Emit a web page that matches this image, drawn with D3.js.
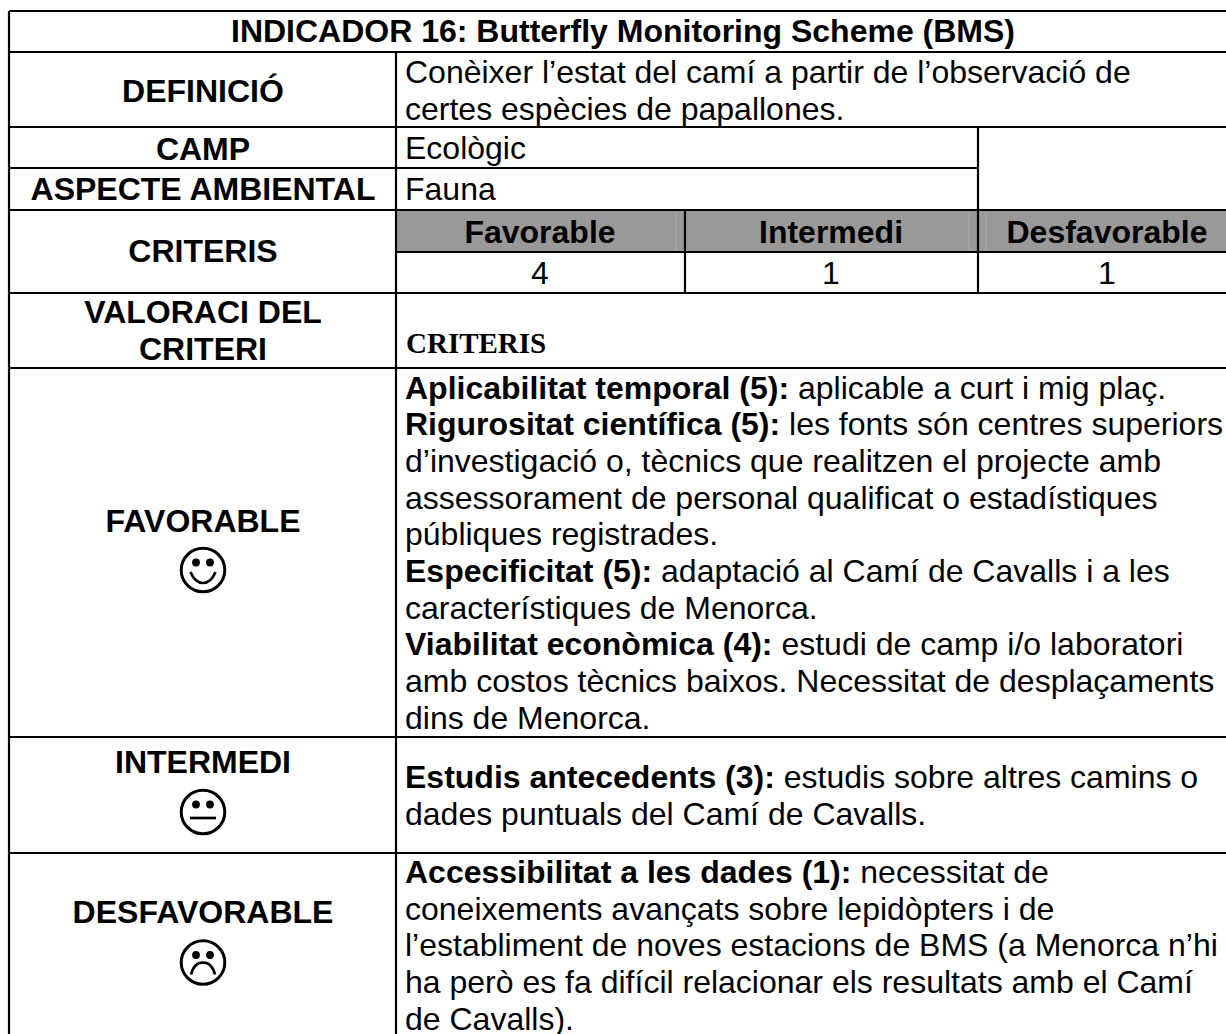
<!DOCTYPE html>
<html><head><meta charset="utf-8">
<script src="https://cdnjs.cloudflare.com/ajax/libs/d3/7.8.5/d3.min.js"></script>
<style>html,body{margin:0;padding:0;background:#fff;overflow:hidden}svg{display:block}text{font-family:"Liberation Sans",Arial,sans-serif;fill:#000}</style>
</head><body><svg id="c" width="1226" height="1034"></svg>
<script>
const title = "INDICADOR 16: Butterfly Monitoring Scheme (BMS)";
const rowLabels = [["DEFINICIÓ"],["CAMP"],["ASPECTE AMBIENTAL"],["CRITERIS"],["VALORACI DEL","CRITERI"],["FAVORABLE"],["INTERMEDI"],["DESFAVORABLE"]];
const definition = ["Conèixer l’estat del camí a partir de l’observació de","certes espècies de papallones."];
const camp = "Ecològic";
const aspecte = "Fauna";
const criteriaNames = ["Favorable","Intermedi","Desfavorable"];
const criteriaCounts = [4,1,1];
const subhead = "CRITERIS";
const favorableLines = [
 [["Aplicabilitat temporal (5):",1],[" aplicable a curt i mig plaç.",0]],
 [["Rigurositat científica (5):",1],[" les fonts són centres superiors",0]],
 [["d’investigació o, tècnics que realitzen el projecte amb",0]],
 [["assessorament de personal qualificat o estadístiques",0]],
 [["públiques registrades.",0]],
 [["Especificitat (5):",1],[" adaptació al Camí de Cavalls i a les",0]],
 [["característiques de Menorca.",0]],
 [["Viabilitat econòmica (4):",1],[" estudi de camp i/o laboratori",0]],
 [["amb costos tècnics baixos. Necessitat de desplaçaments",0]],
 [["dins de Menorca.",0]]];
const intermediLines = [
 [["Estudis antecedents (3):",1],[" estudis sobre altres camins o",0]],
 [["dades puntuals del Camí de Cavalls.",0]]];
const desfavLines = [
 [["Accessibilitat a les dades (1):",1],[" necessitat de",0]],
 [["coneixements avançats sobre lepidòpters i de",0]],
 [["l’establiment de noves estacions de BMS (a Menorca n’hi",0]],
 [["ha però es fa difícil relacionar els resultats amb el Camí",0]],
 [["de Cavalls).",0]]];
const faces = ["smile","neutral","sad"];

const svg = d3.select("#c");
const FS = 32, LH = 36.7;
const L=9, V=396, V2=685, V3=978, R=1226, B=1034;
const Y={top:11,def:52,camp:127,asp:168,crit:210,count:252,val:293,fav:368,int:737,des:853};
const lw=2.2;
const hLines=[[L,R,Y.top],[L,R,Y.def],[L,R,Y.camp],[L,V3,Y.asp],[L,R,Y.crit],[V,R,Y.count],[L,R,Y.val],[L,R,Y.fav],[L,R,Y.int],[L,R,Y.des]];
const vLines=[[L,Y.top,B],[V,Y.def,B],[V2,Y.crit,Y.val],[V3,Y.camp,Y.val]];
function txt(t,x,y,o={}){return svg.append("text").attr("x",x).attr("y",y).attr("font-size",o.fs||FS).attr("font-weight",o.b?"bold":"normal").attr("text-anchor",o.a||"start").style("font-family",o.ff||null).text(t);}
function rich(segs,x,y){const t=svg.append("text").attr("x",x).attr("y",y).attr("font-size",FS).style("white-space","pre");
 segs.forEach(s=>t.append("tspan").attr("font-weight",s[1]?"bold":"normal").text(s[0]));}

svg.append("rect").attr("x",V).attr("y",Y.crit).attr("width",R-V).attr("height",Y.count-Y.crit).attr("fill","#999");
svg.selectAll("line.faint").data([676,969,986]).join("line").attr("class","faint")
  .attr("x1",d=>d).attr("x2",d=>d).attr("y1",Y.crit+3).attr("y2",Y.count-1).attr("stroke","#adadad").attr("stroke-width",1);
svg.selectAll("line.h").data(hLines).join("line").attr("class","h")
  .attr("x1",d=>d[0]).attr("x2",d=>d[1]).attr("y1",d=>d[2]).attr("y2",d=>d[2]).attr("stroke","#000").attr("stroke-width",lw);
svg.selectAll("line.v").data(vLines).join("line").attr("class","v")
  .attr("x1",d=>d[0]).attr("x2",d=>d[0]).attr("y1",d=>d[1]).attr("y2",d=>d[2]).attr("stroke","#000").attr("stroke-width",lw);

const mid=203;
txt(title,623,42,{b:1,a:"middle"});
[[0,0,102],[1,0,160],[2,0,200],[3,0,262],[4,0,323],[4,1,360],[5,0,532],[6,0,773],[7,0,923]].forEach(r=>
  txt(rowLabels[r[0]][r[1]],mid,r[2],{b:1,a:"middle"}));

const TX=405;
definition.forEach((d,i)=>txt(d,TX,83+i*37));
txt(camp,TX,159); txt(aspecte,TX,200);
[540,831,1107].forEach((cx,i)=>{
  txt(criteriaNames[i],cx,243,{b:1,a:"middle"});
  txt(String(criteriaCounts[i]),cx,284,{a:"middle"});
});
txt(subhead,TX+1,353,{b:1,fs:29,ff:'"Liberation Serif",serif'});
favorableLines.forEach((l,i)=>rich(l,TX,398.5+i*LH));
intermediLines.forEach((l,i)=>rich(l,TX,788+i*LH));
desfavLines.forEach((l,i)=>rich(l,TX,883+i*LH));

function face(cx,cy,kind){
  const g=svg.append("g").attr("transform",`translate(${cx},${cy})`).attr("fill","none").attr("stroke","#000");
  g.append("circle").attr("r",21.8).attr("stroke-width",3);
  [-7,7].forEach(dx=>g.append("circle").attr("cx",dx).attr("cy",-7.5).attr("r",3.9).attr("fill","#000").attr("stroke","none"));
  const p=kind==="smile"?"M-12.5,2Q-8,13 0,13Q8,13 12.5,2":kind==="neutral"?"M-13,6L13,6":"M-12,12Q-9,0 0,0Q9,0 12,12";
  g.append("path").attr("d",p).attr("stroke-width",2.7);
}
[570,812,962.5].forEach((cy,i)=>face(mid,cy,faces[i]));
</script></body></html>
